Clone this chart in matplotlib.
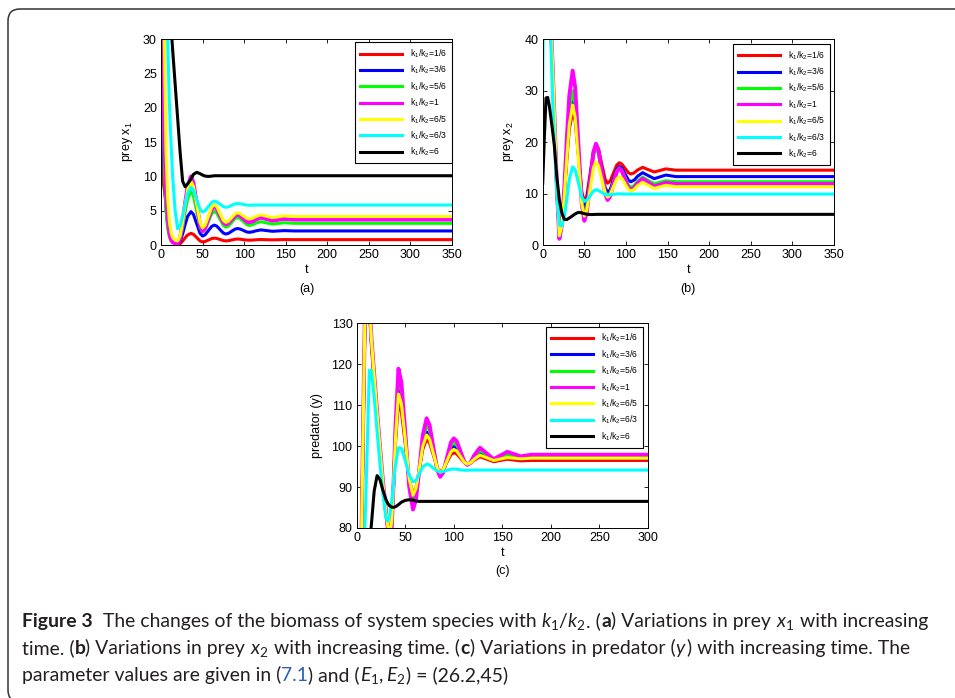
import numpy as np
import matplotlib
matplotlib.use("Agg")
import matplotlib.pyplot as plt
from matplotlib.patches import FancyBboxPatch

plt.rcParams['font.family'] = ['Liberation Sans', 'DejaVu Sans']
plt.rcParams['mathtext.fontset'] = 'custom'
plt.rcParams['mathtext.rm'] = 'Lato'
plt.rcParams['mathtext.it'] = 'Lato:italic'
plt.rcParams['mathtext.bf'] = 'Lato:bold'

# ---------------- data ----------------
labels = [r'k$_\mathregular{1}$/k$_\mathregular{2}$=1/6',
          r'k$_\mathregular{1}$/k$_\mathregular{2}$=3/6',
          r'k$_\mathregular{1}$/k$_\mathregular{2}$=5/6',
          r'k$_\mathregular{1}$/k$_\mathregular{2}$=1',
          r'k$_\mathregular{1}$/k$_\mathregular{2}$=6/5',
          r'k$_\mathregular{1}$/k$_\mathregular{2}$=6/3',
          r'k$_\mathregular{1}$/k$_\mathregular{2}$=6']
colors = ['#ff0000', '#0000ff', '#00ff00', '#ff00ff', '#ffff00', '#00ffff', '#000000']
widths = [2.2, 2.2, 2.2, 2.8, 2.2, 2.2, 2.2]

# time grid for panels (a) and (b)
t_ab = [0, 2, 4, 6, 8, 10, 12, 14, 17, 20, 23, 26, 29, 32, 36, 39, 43, 47, 50, 53, 57, 61,
        64, 67, 71, 75, 78, 81, 85, 89, 92, 95, 99, 103, 106, 110, 114, 120, 127, 134, 141,
        148, 160, 350]

# (a) prey x1
a_red = [14, 9.6, 8.0, 6.0, 4.1, 2.4, 1.2, 0.6, 0.2, 0.05, 0.19, 0.56, 1.04, 1.46, 1.7, 1.56,
         1.08, 0.59, 0.45, 0.51, 0.72, 0.94, 1.0, 0.96, 0.8, 0.64, 0.6, 0.63, 0.73, 0.84, 0.87,
         0.85, 0.78, 0.72, 0.7, 0.72, 0.76, 0.8, 0.77, 0.75, 0.77, 0.79, 0.78, 0.78]
a_blue = [24, 17, 10, 5.5, 3.0, 1.6, 0.9, 0.5, 0.25, 0.15, 0.55, 1.61, 2.98, 4.17, 4.86, 4.47,
          3.08, 1.69, 1.3, 1.48, 2.1, 2.72, 2.9, 2.76, 2.25, 1.74, 1.6, 1.69, 2.0, 2.31, 2.4,
          2.34, 2.13, 1.91, 1.85, 1.92, 2.06, 2.2, 2.1, 2.0, 2.05, 2.1, 2.05, 2.05]
a_green = [55, 26, 11, 5, 2.4, 1.2, 0.6, 0.4, 0.3, 0.25, 0.89, 2.59, 4.78, 6.7, 7.8, 7.15,
           4.85, 2.55, 1.9, 2.23, 3.4, 4.57, 4.9, 4.65, 3.75, 2.85, 2.6, 2.75, 3.3, 3.85, 4.0,
           3.87, 3.43, 2.98, 2.85, 2.95, 3.18, 3.4, 3.22, 3.05, 3.15, 3.25, 3.16, 3.16]
a_magenta = [80, 40, 16, 8, 4, 1.8, 0.8, 0.4, 0.2, 0.2, 1.03, 3.24, 6.08, 8.57, 10.0, 9.12,
             6.0, 2.88, 2.0, 2.4, 3.8, 5.2, 5.6, 5.31, 4.3, 3.29, 3.0, 3.15, 3.7, 4.25, 4.4,
             4.28, 3.85, 3.42, 3.3, 3.43, 3.71, 4.0, 3.78, 3.55, 3.68, 3.8, 3.7, 3.7]
a_yellow = [90, 55, 30, 14, 7, 3.5, 1.9, 1.1, 0.7, 0.6, 1.34, 3.3, 5.82, 8.03, 9.3, 8.55,
            5.9, 3.25, 2.5, 2.87, 4.2, 5.53, 5.9, 5.61, 4.6, 3.59, 3.3, 3.45, 4.0, 4.55, 4.7,
            4.6, 4.25, 3.9, 3.8, 3.91, 4.15, 4.4, 4.2, 4.0, 4.12, 4.25, 4.15, 4.15]
a_cyan = [150, 110, 75, 45, 30, 21, 15, 10, 5, 2.35, 2.82, 4.19, 5.96, 7.51, 8.4, 8.0,
          6.6, 5.2, 4.8, 4.98, 5.6, 6.22, 6.4, 6.3, 5.95, 5.6, 5.5, 5.56, 5.78, 5.99, 6.05,
          6.02, 5.92, 5.83, 5.8, 5.81, 5.83, 5.83, 5.83, 5.83, 5.83, 5.83, 5.83, 5.83]
a_black = [200, 120, 80, 58, 45, 37, 32, 28.5, 23.5, 18.5, 13.5, 9.3, 8.5, 8.9, 9.6, 10.3,
           10.6, 10.4, 10.2, 10.05, 10.0, 10.05, 10.1, 10.1, 10.1, 10.1, 10.1, 10.1, 10.1,
           10.1, 10.1, 10.1, 10.1, 10.1, 10.1, 10.1, 10.1, 10.1, 10.1, 10.1, 10.1, 10.1,
           10.1, 10.1]

# (b) prey x2
b_red = [55, 75, 82, 72, 55, 41, 33, 24, 10.5, 2.4, 4.31, 9.65, 16.5, 22.5, 26, 24.06,
         17.2, 10.34, 8.4, 9.62, 13.95, 18.28, 19.5, 18.68, 15.75, 12.83, 12.0, 12.44, 14.0,
         15.56, 16.0, 15.76, 14.9, 14.04, 13.8, 14.05, 14.59, 15.1, 14.65, 14.2, 14.5, 14.8,
         14.55, 14.55]
b_blue = [55, 76, 84, 74, 56, 41.5, 33.5, 24.5, 10.8, 2.1, 4.21, 10.06, 17.6, 24.2, 28,
          25.69, 17.5, 9.31, 7.0, 8.35, 13.15, 17.95, 19.3, 18.3, 14.75, 11.2, 10.2, 10.76,
          12.75, 14.74, 15.3, 14.97, 13.8, 12.63, 12.3, 12.63, 13.37, 14.06, 13.48, 12.9,
          13.25, 13.6, 13.3, 13.3]
b_green = [55, 77, 86, 76, 57, 42, 34, 25, 11, 1.7, 3.92, 10.34, 18.6, 25.84, 30, 27.36,
           18.0, 8.64, 6.0, 7.41, 12.4, 17.39, 18.8, 17.78, 14.15, 10.52, 9.5, 10.1, 12.25,
           14.4, 15.0, 14.58, 13.1, 11.62, 11.2, 11.58, 12.42, 13.2, 12.55, 11.9, 12.2, 12.5,
           12.3, 12.3]
b_magenta = [55, 78, 88, 78, 58, 42.5, 34.5, 25.5, 11.2, 1.2, 3.8, 11.2, 20.74, 29.1, 33.9,
             30.69, 19.3, 7.91, 4.7, 6.35, 12.2, 18.05, 19.7, 18.5, 14.23, 9.95, 8.75, 9.43,
             11.83, 14.22, 14.9, 14.44, 12.8, 11.16, 10.7, 11.12, 12.04, 12.9, 12.15, 11.4,
             11.75, 12.1, 11.86, 11.86]
b_yellow = [55, 78, 88, 78, 58, 42.5, 34.5, 25.5, 11.2, 1.8, 3.78, 9.54, 16.96, 23.46, 27.2,
            24.82, 16.4, 7.98, 5.6, 6.77, 10.9, 15.03, 16.2, 15.44, 12.75, 10.06, 9.3, 9.74,
            11.3, 12.86, 13.3, 12.99, 11.9, 10.81, 10.5, 10.82, 11.54, 12.2, 11.6, 11.0, 11.3,
            11.6, 11.35, 11.35]
b_cyan = [30, 70, 90, 80, 60, 38, 28, 20, 10, 3.9, 3.7, 5.5, 9.0, 12.8, 15.2, 14.6, 12.0,
          9.3, 8.5, 8.7, 9.6, 10.5, 10.75, 10.6, 10.2, 9.85, 9.75, 9.78, 9.85, 9.92, 9.95,
          9.93, 9.9, 9.9, 9.9, 9.9, 9.9, 9.9, 9.9, 9.9, 9.9, 9.9, 9.9, 9.9]
b_black = [12, 21, 28.6, 28.7, 27.0, 24.6, 22.0, 19.3, 13.2, 8.8, 6.2, 5.0, 4.95, 5.25, 5.7,
           6.05, 6.35, 6.25, 6.1, 5.98, 5.92, 5.93, 5.96, 5.96, 5.96, 5.96, 5.96, 5.96, 5.96,
           5.96, 5.96, 5.96, 5.96, 5.96, 5.96, 5.96, 5.96, 5.96, 5.96, 5.96, 5.96, 5.96, 5.96,
           5.96]

# (c) predator y
t_c = [0, 3, 5, 7, 9, 11, 13, 15, 18, 21, 24, 27, 30, 32, 34, 36, 38, 40, 43, 46, 50, 54, 58,
       61, 64, 68, 72, 75, 79, 83, 86, 89, 93, 97, 100, 103, 107, 111, 114, 117, 121, 127, 134,
       141, 148, 155, 162, 169, 180, 200, 300]
c_red = [45, 60, 77, 108, 138, 145, 134, 125, 115.5, 106.5, 98, 90, 83.5, 80.5, 79, 82, 91,
         101, 110.5, 108.4, 100.5, 92.0, 88.3, 89.76, 93.5, 99.15, 101.7, 100.8, 97.75, 94.67,
         93.8, 94.3, 96.1, 97.9, 98.4, 98.1, 97.0, 95.9, 95.6, 95.82, 96.6, 97.4, 96.8, 96.2,
         96.5, 96.8, 96.6, 96.4, 96.5, 96.5, 96.5]
c_blue = [45, 60, 77.5, 109, 139, 146, 135, 126, 116.5, 107.5, 98.8, 90.6, 83.8, 80.2, 78.2,
          81, 91, 103, 113.7, 111.2, 101.7, 91.4, 87.0, 88.8, 93.4, 100.4, 103.5, 102.4, 98.4,
          94.4, 93.3, 94.0, 96.6, 99.2, 99.9, 99.4, 97.75, 96.1, 95.6, 95.9, 97.1, 98.2, 97.4,
          96.6, 97.0, 97.4, 97.15, 96.9, 97.0, 97.0, 97.0]
c_green = [45, 60, 78, 110, 140, 147, 135.5, 126.5, 117, 108, 99.3, 91, 84, 80, 77.5, 80.5,
           91, 104, 116.5, 113.6, 102.7, 90.9, 85.8, 87.9, 93.4, 101.5, 105.2, 103.8, 99.05,
           94.3, 92.9, 93.8, 96.9, 100.0, 100.9, 100.3, 98.25, 96.2, 95.6, 96.0, 97.45, 98.9,
           97.85, 96.8, 97.3, 97.8, 97.5, 97.2, 97.4, 97.4, 97.4]
c_magenta = [45, 60, 78.5, 111, 141, 148, 136, 127, 117.5, 108.5, 99.8, 91.5, 84.5, 80, 76.5,
             80, 91, 105, 118.9, 115.6, 103.4, 90.2, 84.5, 86.9, 93.2, 102.6, 106.8, 105.2,
             99.65, 94.1, 92.5, 93.5, 97.2, 100.9, 101.9, 101.2, 98.65, 96.1, 95.4, 95.9,
             97.75, 99.6, 98.2, 96.8, 97.7, 98.6, 98.05, 97.5, 97.9, 97.9, 97.9]
c_yellow = [45, 60, 78, 110, 140, 147, 135.5, 126.5, 117, 108, 99.3, 91, 84, 80.5, 78.5, 81.5,
            91, 102, 112.7, 110.35, 101.6, 92.1, 88.0, 89.6, 93.7, 99.9, 102.7, 101.7, 98.15,
            94.6, 93.6, 94.2, 96.4, 98.6, 99.2, 98.8, 97.4, 96.0, 95.6, 95.9, 96.8, 97.8, 97.15,
            96.5, 96.85, 97.2, 97.05, 96.9, 97.05, 97.05, 97.05]
c_cyan = [45, 55, 62, 72, 84, 101, 118.5, 118.5, 112, 103.5, 95.5, 88.5, 82.5, 81.7, 83, 86.5,
          91, 95.5, 99.6, 99.5, 96.5, 93.0, 91.3, 91.6, 93.0, 94.9, 95.6, 95.4, 94.6, 93.9,
          93.7, 93.8, 94.1, 94.35, 94.4, 94.35, 94.2, 94.1, 94.1, 94.15, 94.15, 94.15, 94.15,
          94.15, 94.15, 94.15, 94.15, 94.15, 94.15, 94.15, 94.15]
c_black = [45, 52, 57, 62, 67, 72, 76.5, 80.5, 89, 92.8, 91.8, 89.2, 87.0, 86.0, 85.4, 85.1,
           85.05, 85.2, 85.7, 86.3, 86.75, 86.9, 86.8, 86.6, 86.5, 86.5, 86.5, 86.5, 86.5, 86.5,
           86.5, 86.5, 86.5, 86.5, 86.5, 86.5, 86.5, 86.5, 86.5, 86.5, 86.5, 86.5, 86.5, 86.5,
           86.5, 86.5, 86.5, 86.5, 86.5, 86.5, 86.5]

# ---------------- figure ----------------
W, H = 955, 698
fig = plt.figure(figsize=(W / 100, H / 100), dpi=100)

# rounded frame around the whole figure (pixel coords, y up)
axf = fig.add_axes([0, 0, 1, 1])
axf.set_xlim(0, W)
axf.set_ylim(0, H)
axf.axis('off')
axf.add_patch(FancyBboxPatch((8, H - 702), 965, 693, boxstyle='round,pad=0,rounding_size=12',
                             fc='none', ec='#333333', lw=1.1))


def px_axes(left, top, right, bottom):
    return fig.add_axes([left / W, 1 - bottom / H, (right - left) / W, (bottom - top) / H])


def draw_panel(ax, t, ys, xmax, ylim, yticks, ylabel, tag, anchor):
    for y, c, lw, lab in zip(ys, colors, widths, labels):
        ax.plot(t, y, color=c, lw=lw, label=lab, solid_joinstyle='round')
    ax.set_xlim(0, xmax)
    ax.set_ylim(*ylim)
    ax.set_xticks(list(range(0, xmax + 1, 50)))
    ax.set_yticks(yticks)
    ax.tick_params(direction='in', top=True, right=True, length=3, width=0.6,
                   labelsize=9, pad=3)
    for s in ax.spines.values():
        s.set_linewidth(0.7)
    ax.set_xlabel('t', fontsize=9, labelpad=2)
    ax.set_ylabel(ylabel, fontsize=9, labelpad=6)
    ax.text(0.5, -0.212, tag, transform=ax.transAxes, ha='center', va='center', fontsize=9)
    leg = ax.legend(loc='upper right', bbox_to_anchor=anchor, borderaxespad=0,
                    fancybox=False, framealpha=1, edgecolor='black', fontsize=6.2,
                    handlelength=4.9, handletextpad=0.9, labelspacing=0.45, borderpad=0.6)
    leg.get_frame().set_linewidth(0.8)
    for h in leg.legend_handles:
        h.set_linewidth(2.2)


ax_a = px_axes(161, 39.3, 452, 245)
draw_panel(ax_a, t_ab, [a_red, a_blue, a_green, a_magenta, a_yellow, a_cyan, a_black],
           350, (0, 30), [0, 5, 10, 15, 20, 25, 30], r'prey x$_\mathregular{1}$', '(a)',
           (1.0, 0.985))

ax_b = px_axes(542.7, 39.3, 834, 245)
draw_panel(ax_b, t_ab, [b_red, b_blue, b_green, b_magenta, b_yellow, b_cyan, b_black],
           350, (0, 40), [0, 10, 20, 30, 40], r'prey x$_\mathregular{2}$', '(b)',
           (0.986, 0.977))

ax_c = px_axes(356.7, 323.3, 648, 528)
draw_panel(ax_c, t_c, [c_red, c_blue, c_green, c_magenta, c_yellow, c_cyan, c_black],
           300, (80, 130), [80, 90, 100, 110, 120, 130], 'predator (y)', '(c)',
           (0.984, 0.983))

# ---------------- caption ----------------
renderer = fig.canvas.get_renderer()
cap_font = ['Lato', 'DejaVu Sans']
cap_col = '#231f20'
bold = {'fontweight': 'bold'}
blue = {'color': '#2d5fb4'}

line1 = [('Figure 3', bold), ('  The changes of the biomass of system species with ', {}),
         (r'$k_1/k_2$', {}), ('. (', {}), ('a', bold), (') Variations in prey ', {}),
         (r'$x_1$', {}), (' with increasing', {})]
line2 = [('time. (', {}), ('b', bold), (') Variations in prey ', {}), (r'$x_2$', {}),
         (' with increasing time. (', {}), ('c', bold), (') Variations in predator (', {}),
         (r'$y$', {}), (') with increasing time. The', {})]
line3 = [('parameter values are given in (', {}), ('7.1', blue), (') and (', {}),
         (r'$E_1,E_2$', {}), (') = (26.2,45)', {})]


def text_width(s, size, kw):
    if '$' in s:
        t1 = fig.text(0, 0, s, fontsize=size, family=cap_font, **kw)
        w = t1.get_window_extent(renderer).width + 0.03 * size
        t1.remove()
        return w
    t1 = fig.text(0, 0, '|' + s + '|', fontsize=size, family=cap_font, **kw)
    t2 = fig.text(0, 0, '||', fontsize=size, family=cap_font, **kw)
    w = t1.get_window_extent(renderer).width - t2.get_window_extent(renderer).width
    t1.remove()
    t2.remove()
    return w


def put_line(parts, x0, y0, size):
    x = x0
    for s, kw in parts:
        kk = {'color': cap_col}
        kk.update(kw)
        fig.text(x / W, 1 - y0 / H, s, fontsize=size, family=cap_font, ha='left',
                 va='baseline', **kk)
        x += text_width(s, size, kw)


# scale caption size so that the first line spans the same width as in the original
w12 = sum(text_width(s, 12, kw) for s, kw in line1)
cap_size = 12 * 903 / w12

put_line(line1, 22, 627, cap_size)
put_line(line2, 22, 654, cap_size)
put_line(line3, 22, 681, cap_size)

fig.savefig('out.png', dpi=100)
